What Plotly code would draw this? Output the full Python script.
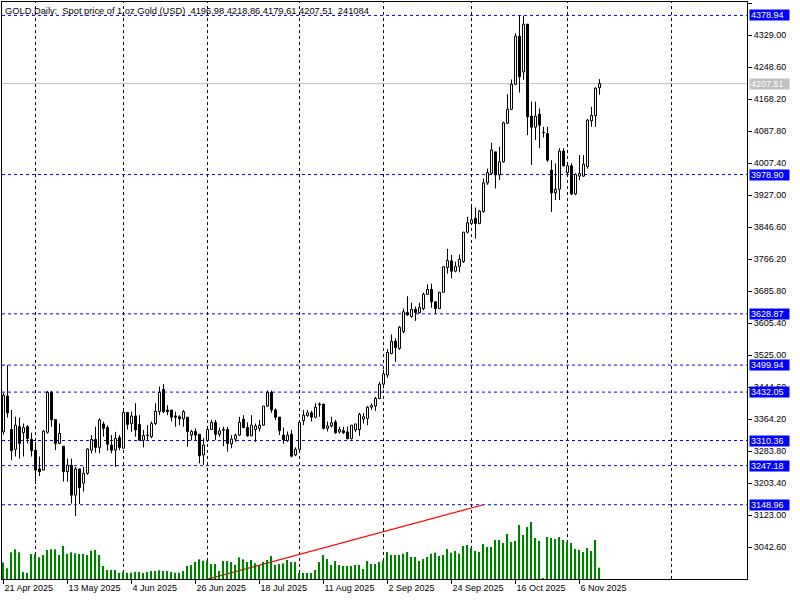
import plotly.graph_objects as go

# ---------------- data ----------------
opens = [3332, 3422, 3338, 3288, 3345, 3330, 3345, 3313, 3286, 3239,
         3236, 3331, 3431, 3363, 3303, 3296, 3232, 3248, 3173, 3239,
         3203, 3228, 3286, 3313, 3293, 3352, 3343, 3299, 3286, 3318,
         3291, 3381, 3353, 3372, 3351, 3311, 3323, 3320, 3353, 3383,
         3439, 3387, 3387, 3372, 3370, 3365, 3369, 3324, 3333, 3326,
         3274, 3310, 3338, 3356, 3326, 3336, 3338, 3302, 3314, 3324,
         3364, 3343, 3322, 3338, 3341, 3349, 3397, 3431, 3387, 3369,
         3324, 3310, 3326, 3274, 3288, 3360, 3373, 3380, 3369, 3402,
         3402, 3341, 3347, 3357, 3332, 3335, 3332, 3315, 3337, 3338,
         3364, 3366, 3394, 3397, 3416, 3452, 3475, 3529, 3560, 3542,
         3584, 3632, 3622, 3640, 3632, 3642, 3678, 3690, 3659, 3642,
         3683, 3745, 3762, 3736, 3748, 3760, 3834, 3856, 3869, 3856,
         3886, 3958, 3982, 4036, 3978, 4011, 4108, 4143, 4206, 4327,
         4237, 4357, 4126, 4098, 4131, 4084, 4082, 3990, 3933, 3942,
         4038, 3984, 4001, 3930, 3975, 3975, 3999, 4114, 4127, 4196.98]
highs = [3430, 3499.94, 3387, 3370, 3368, 3353, 3349, 3330, 3307, 3270,
         3337, 3435, 3435, 3363, 3353, 3296, 3265, 3265, 3244, 3239,
         3244, 3291, 3324, 3345, 3366, 3358, 3349, 3324, 3332, 3324,
         3387, 3381, 3383, 3404, 3374, 3337, 3349, 3358, 3404, 3446,
         3452, 3399, 3387, 3383, 3374, 3387, 3369, 3337, 3341, 3326,
         3316, 3338, 3362, 3362, 3343, 3345, 3345, 3324, 3328, 3370,
         3374, 3356, 3374, 3353, 3362, 3397, 3436, 3436, 3391, 3370,
         3343, 3333, 3337, 3293, 3362, 3387, 3387, 3385, 3404, 3406,
         3402, 3358, 3370, 3362, 3345, 3345, 3345, 3349, 3352, 3380,
         3379, 3397, 3404, 3420, 3458, 3488, 3540, 3577, 3567, 3598,
         3642, 3673, 3657, 3647, 3657, 3682, 3703, 3705, 3661, 3684,
         3749, 3792, 3777, 3760, 3778, 3835, 3873, 3898, 3896, 3890,
         3969, 3994, 4059, 4036, 4049, 4112, 4181, 4218, 4334, 4378.94,
         4378, 4357, 4162, 4162, 4145, 4099, 4099, 4015, 4007, 4045,
         4045, 4007, 4007, 3982, 4028, 4028, 4118, 4149, 4198, 4218.86]
lows = [3325, 3368, 3261, 3270, 3265, 3270, 3303, 3270, 3201, 3221,
        3236, 3328, 3345, 3286, 3303, 3207, 3207, 3152, 3120, 3151,
        3182, 3224, 3278, 3280, 3278, 3320, 3285, 3278, 3244, 3286,
        3291, 3338, 3332, 3320, 3311, 3293, 3311, 3316, 3349, 3374,
        3379, 3374, 3358, 3345, 3349, 3345, 3295, 3311, 3311, 3253,
        3249, 3307, 3338, 3312, 3320, 3296, 3282, 3291, 3307, 3322,
        3341, 3320, 3322, 3307, 3333, 3347, 3395, 3380, 3362, 3324,
        3302, 3307, 3268, 3271, 3288, 3349, 3370, 3358, 3366, 3370,
        3338, 3333, 3343, 3327, 3328, 3327, 3313, 3313, 3332, 3322,
        3353, 3349, 3387, 3385, 3414, 3441, 3468, 3527, 3508, 3538,
        3580, 3624, 3619, 3611, 3630, 3638, 3676, 3644, 3628, 3641,
        3683, 3730, 3718, 3733, 3733, 3757, 3831, 3854, 3818, 3854,
        3883, 3953, 3978, 3944, 3965, 4009, 4106, 4141, 4204, 4185,
        4217, 4078, 4003, 4066, 4045, 4072, 4011, 3885, 3915, 3915,
        3999, 3974, 3927, 3927, 3965, 3973, 3994, 4099, 4099, 4179.61]
closes = [3424, 3380, 3285, 3349, 3303, 3343, 3315, 3285, 3236, 3232,
          3334, 3431, 3362, 3303, 3328, 3232, 3248, 3173, 3239, 3192,
          3228, 3289, 3313, 3293, 3362, 3341, 3301, 3286, 3316, 3293,
          3381, 3351, 3372, 3337, 3311, 3323, 3324, 3353, 3384, 3431,
          3383, 3383, 3369, 3369, 3365, 3383, 3333, 3333, 3324, 3272,
          3299, 3338, 3356, 3326, 3335, 3338, 3303, 3314, 3324, 3356,
          3343, 3322, 3349, 3347, 3349, 3397, 3431, 3387, 3369, 3335,
          3312, 3324, 3271, 3288, 3356, 3374, 3380, 3369, 3394, 3400,
          3341, 3347, 3355, 3330, 3338, 3330, 3315, 3349, 3352, 3376,
          3370, 3394, 3398, 3416, 3452, 3478, 3532, 3560, 3544, 3595,
          3634, 3626, 3640, 3632, 3645, 3678, 3690, 3659, 3642, 3683,
          3747, 3763, 3736, 3748, 3766, 3834, 3858, 3865, 3856, 3887,
          3958, 3984, 4041, 3978, 4011, 4109, 4143, 4206, 4327, 4225,
          4357, 4124, 4098, 4126, 4103, 4085, 4015, 3933, 3942, 4038,
          4001, 4001, 3930, 3979, 3982, 4005, 4116, 4128, 4196, 4207.51]
# tick volume, thousands
volumes_k = [350, 228, 569, 633, 569, 149, 128, 533, 533, 462,
             511, 618, 633, 633, 511, 703, 533, 569, 547, 533,
             533, 511, 603, 618, 511, 277, 192, 192, 192, 134,
             149, 134, 134, 149, 149, 128, 149, 170, 170, 185,
             170, 170, 149, 134, 134, 170, 277, 298, 362, 420,
             390, 390, 320, 320, 170, 383, 383, 362, 298, 462,
             420, 362, 405, 334, 298, 362, 405, 490, 298, 320,
             334, 405, 362, 362, 128, 128, 128, 128, 192, 362,
             511, 426, 298, 383, 298, 277, 277, 277, 298, 298,
             213, 383, 320, 320, 362, 390, 575, 511, 511, 511,
             539, 575, 469, 469, 383, 426, 469, 539, 560, 490,
             511, 639, 560, 596, 539, 703, 724, 660, 596, 575,
             746, 682, 682, 831, 831, 767, 959, 788, 809, 1150,
             937, 1108, 1214, 873, 809, 15, 895, 873, 852, 895,
             831, 788, 767, 639, 618, 575, 660, 596, 831, 241.084]

date_tick_bars = [0, 16, 32, 48, 64, 80, 96, 112, 128, 144]
date_tick_labels = ["21 Apr 2025", "13 May 2025", "4 Jun 2025", "26 Jun 2025",
                    "18 Jul 2025", "11 Aug 2025", "2 Sep 2025", "24 Sep 2025",
                    "16 Oct 2025", "6 Nov 2025"]
month_start_bars = [8, 30, 51, 74, 95, 117, 141, 167]

price_ticks = [4409.40, 4329.00, 4248.60, 4168.20, 4087.80, 4007.40, 3927.00,
               3846.60, 3766.20, 3685.80, 3605.40, 3525.00, 3444.60, 3364.20,
               3283.80, 3203.40, 3123.00, 3042.60]
levels = [4378.94, 3978.90, 3628.87, 3499.94, 3432.05, 3310.36, 3247.18, 3148.96]
bid_price = 4207.51

trend_bars = [51, 120]
trend_prices = [2962.0, 3148.96]

title_text = ("GOLD,Daily:  Spot price of 1 oz Gold (USD)  "
              "4196.98 4218.86 4179.61 4207.51  241084")

# ---------------- figure ----------------
bars = list(range(len(closes)))
FONT = "Liberation Sans"

body_low = [min(o, c) for o, c in zip(opens, closes)]
body_high = [max(o, c) for o, c in zip(opens, closes)]
body_size = [h - l for h, l in zip(body_high, body_low)]
body_fill = ["white" if c >= o else "black" for o, c in zip(opens, closes)]

wick_x, wick_y = [], []
for i in bars:
    wick_x += [i, i, None, i, i, None]
    wick_y += [body_high[i], highs[i], None, lows[i], body_low[i], None]

fig = go.Figure()

# volume sticks (green) on an invisible overlaid axis
fig.add_trace(go.Bar(
    x=bars, y=volumes_k, yaxis="y2", width=0.3,
    marker=dict(color="#008000", line=dict(width=0)),
    hoverinfo="skip", showlegend=False))

fig.add_trace(go.Scatter(
    x=wick_x, y=wick_y, mode="lines", line=dict(color="black", width=1),
    hoverinfo="skip", showlegend=False))

fig.add_trace(go.Bar(
    x=bars, base=body_low, y=body_size, width=0.5,
    marker=dict(color=body_fill, line=dict(color="black", width=1)),
    hoverinfo="skip", showlegend=False))

fig.add_trace(go.Scatter(
    x=trend_bars, y=trend_prices, mode="lines",
    line=dict(color="#FF0000", width=1.2), showlegend=False, hoverinfo="skip"))

shapes = []
for b in month_start_bars:
    shapes.append(dict(type="line", xref="x", yref="paper", x0=b, x1=b, y0=0, y1=1,
                       line=dict(color="black", width=1, dash="3px,3px"), layer="below"))
for lv in levels:
    shapes.append(dict(type="line", xref="paper", yref="y", x0=0, x1=1, y0=lv, y1=lv,
                       line=dict(color="#0000FF", width=1, dash="3px,3px"), layer="below"))
shapes.append(dict(type="line", xref="paper", yref="y", x0=0, x1=1, y0=bid_price, y1=bid_price,
                   line=dict(color="#C0C0C0", width=1), layer="below"))

annotations = []
for lv in levels:
    annotations.append(dict(xref="paper", yref="y", x=1, y=lv, xanchor="left", yanchor="middle",
                            xshift=2, text=f"{lv:.2f}", showarrow=False, bgcolor="#0000FF",
                            font=dict(family=FONT, size=9, color="white"),
                            borderpad=1, width=37, height=8, align="left"))
annotations.append(dict(xref="paper", yref="y", x=1, y=bid_price, xanchor="left", yanchor="middle",
                        xshift=2, text=f"{bid_price:.2f}", showarrow=False, bgcolor="#C0C0C0",
                        font=dict(family=FONT, size=9, color="white"),
                        borderpad=1, width=37, height=8, align="left"))
annotations.append(dict(xref="paper", yref="paper", x=0, y=1, xanchor="left", yanchor="top",
                        xshift=1, yshift=-2, text=title_text, showarrow=False,
                        font=dict(family=FONT, size=9.3, color="black")))

fig.update_layout(
    width=800, height=600,
    margin=dict(l=2, r=53, t=2, b=21),
    paper_bgcolor="white", plot_bgcolor="white",
    showlegend=False,
    barmode="overlay",
    hovermode=False,
    font=dict(family=FONT, size=9, color="black"),
    xaxis=dict(range=[-0.375, 185.875], tickmode="array", tickvals=date_tick_bars,
               ticktext=date_tick_labels, ticks="outside", ticklen=4, tickcolor="black",
               ticklabelposition="outside right", showgrid=False, zeroline=False,
               showline=True, linecolor="black", linewidth=1, mirror=True,
               tickfont=dict(family=FONT, size=9)),
    yaxis=dict(range=[2962.2, 4412.7], side="right", tickmode="array",
               tickvals=price_ticks, ticktext=[f"{t:.2f}" for t in price_ticks],
               ticks="outside", ticklen=4, tickcolor="black", showgrid=False,
               zeroline=False, showline=True, linecolor="black", linewidth=1, mirror=True,
               tickfont=dict(family=FONT, size=9)),
    yaxis2=dict(overlaying="y", range=[0, 12290], visible=False, fixedrange=True),
    shapes=shapes, annotations=annotations,
)

fig.write_html("out.html", config={"displayModeBar": False},
               post_script="document.body.style.margin='0';")
